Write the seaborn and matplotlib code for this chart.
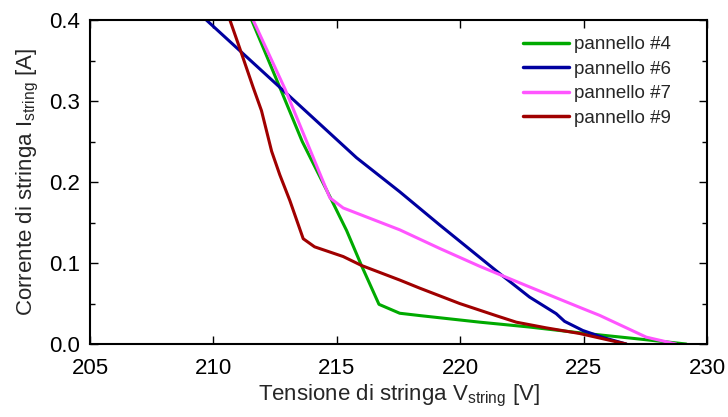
import matplotlib
matplotlib.use("Agg")
import matplotlib.pyplot as plt
import seaborn as sns
import pandas as pd
from matplotlib.ticker import MultipleLocator, FormatStrFormatter

# Data
v4 = [211.55, 212.69, 213.6, 214.72, 215.4, 216.0, 216.71, 217.55, 218.4, 220.79, 222.8, 224.97, 227.0, 229.16]
i4 = [0.400, 0.317, 0.250, 0.182, 0.140, 0.097, 0.049, 0.038, 0.035, 0.027, 0.021, 0.0134, 0.007, 0.000]

v6 = [209.5, 212.69, 215.8, 217.55, 219.17, 221.6, 222.81, 223.89, 224.23, 224.97, 225.8, 226.73]
i6 = [0.406, 0.317, 0.230, 0.188, 0.147, 0.087, 0.058, 0.0375, 0.028, 0.0167, 0.008, 0.000]

v7 = [211.61, 212.9, 214.72, 215.26, 217.55, 219.17, 220.79, 222.81, 224.97, 225.65, 227.54, 228.75]
i7 = [0.400, 0.315, 0.1805, 0.168, 0.141, 0.118, 0.096, 0.0705, 0.0437, 0.0354, 0.0085, 0.000]

v9 = [210.67, 211.07, 211.61, 211.95, 212.36, 212.69, 213.1, 213.64, 214.1, 215.26, 216.0, 217.55, 218.36, 219.98, 221.46, 222.27, 223.48, 224.84, 226.73]
i9 = [0.400, 0.365, 0.317, 0.288, 0.238, 0.209, 0.177, 0.130, 0.120, 0.108, 0.097, 0.079, 0.069, 0.050, 0.035, 0.027, 0.020, 0.013, 0.000]

labels = ["pannello #4", "pannello #6", "pannello #7", "pannello #9"]
colors = ["#00aa00", "#0000a0", "#ff55ff", "#a00000"]

frames = []
for lab, v, i in zip(labels, [v4, v6, v7, v9], [i4, i6, i7, i9]):
    frames.append(pd.DataFrame({"V": v, "I": i, "pannello": lab}))
df = pd.concat(frames, ignore_index=True)

sns.set_theme(style="ticks")
plt.rcParams["font.family"] = ["Liberation Sans", "DejaVu Sans"]
plt.rcParams["mathtext.fontset"] = "custom"
plt.rcParams["mathtext.rm"] = "Liberation Sans"
plt.rcParams["mathtext.it"] = "Liberation Sans"

fig = plt.figure(figsize=(7.28, 4.17), dpi=100)
ax = fig.add_axes([0.1236, 0.175, 0.8475, 0.777])

sns.lineplot(data=df, x="V", y="I", hue="pannello", palette=dict(zip(labels, colors)),
             sort=False, estimator=None, linewidth=2.2, ax=ax)

ax.set_xlim(205, 230)
ax.set_ylim(0, 0.4)
ax.xaxis.set_major_locator(MultipleLocator(5))
ax.yaxis.set_major_locator(MultipleLocator(0.1))
ax.yaxis.set_minor_locator(MultipleLocator(0.05))
ax.yaxis.set_major_formatter(FormatStrFormatter("%.1f"))
ax.tick_params(which="both", direction="in", top=True, right=True, labelsize=16,
               width=1.0, color="black", labelcolor="black")
ax.tick_params(which="major", length=6)
ax.tick_params(which="minor", length=3.6)
ax.tick_params(axis="x", pad=10)
ax.tick_params(axis="y", pad=7)
for s in ax.spines.values():
    s.set_linewidth(1.5)
    s.set_color("black")

ax.set_xlabel("Tensione di stringa V$_\\mathregular{string}$ [V]", fontsize=16, labelpad=3)
ax.set_ylabel("Corrente di stringa I$_\\mathregular{string}$ [A]", fontsize=16, labelpad=6)

leg = ax.legend(loc="upper left", frameon=False, fontsize=13.5, handlelength=2.45,
                handletextpad=0.25, labelspacing=0.39, bbox_to_anchor=(0.69, 0.973),
                borderaxespad=0)
for line in leg.get_lines():
    line.set_linewidth(2.5)

fig.savefig("out.png", dpi=100)
